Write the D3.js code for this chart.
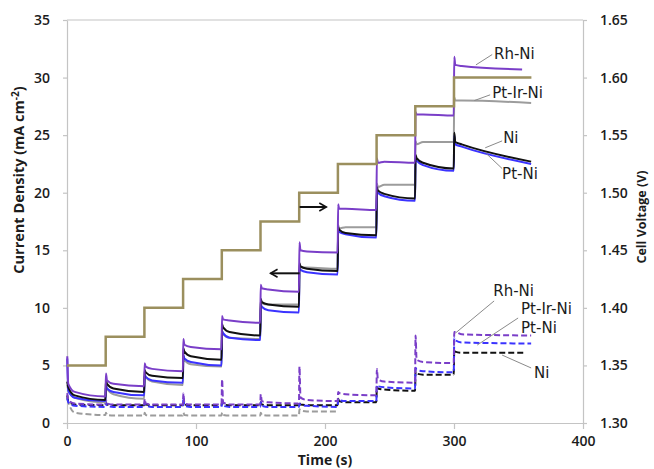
<!DOCTYPE html>
<html>
  <body style="margin:0">
    <style>
      svg { display: block; background: #fff; }
      .axis .tick text { font-family: "Open Sans", sans-serif; font-weight: 600; font-size: 14px; fill: #1c1c1c; }
      .axis path, .axis line { stroke: #c4c4c4; stroke-width: 1.2; }
      .title { font-family: "Open Sans", sans-serif; font-weight: 700; fill: #1c1c1c; }
      .note { font-family: "DejaVu Sans", sans-serif; font-size: 15px; fill: #1c1c1c; }
    </style>
    <script src="https://d3js.org/d3.v7.min.js"></script>
    <script>
      const width = 654;
      const height = 469;
      const margin = { top: 20, right: 71, bottom: 46, left: 67 };

      const xTicks = [0, 100, 200, 300, 400];
      const leftTicks = [0, 5, 10, 15, 20, 25, 30, 35];
      const rightTicks = [1.30, 1.35, 1.40, 1.45, 1.50, 1.55, 1.60, 1.65];

      // potential steps, 30 s each (s)
      const stepStart = [0, 30, 60, 90, 120, 150, 180, 210, 240, 270, 300];
      const stepEnd = [30, 60, 90, 120, 150, 180, 210, 240, 270, 300, 360];
      const appliedVoltage = [1.35, 1.375, 1.40, 1.425, 1.45, 1.475, 1.50, 1.525, 1.55, 1.575, 1.60];

      // current density per step (mA cm-2): [spike, start, after 6 s, end of step]
      const rhNiCurrent = [
        [5.8, 3.4, 2.7, 2.3], [4.3, 3.7, 3.4, 3.2], [5.2, 4.9, 4.7, 4.5], [7.3, 6.8, 6.6, 6.4],
        [9.3, 9.0, 8.9, 8.7], [12.0, 11.7, 11.6, 11.4], [15.7, 15.0, 14.9, 14.8], [19.0, 18.6, 18.6, 18.5],
        [23.0, 22.6, 22.7, 22.6], [27.0, 26.8, 26.8, 26.7], [31.8, 31.1, 31.0, 30.7]
      ];
      const ptIrNiCurrent = [
        [3.3, 2.9, 2.2, 1.8], [3.3, 3.0, 2.5, 2.1], [4.2, 4.0, 3.6, 3.3], [5.8, 5.5, 5.1, 4.9],
        [8.0, 7.7, 7.4, 7.3], [10.7, 10.4, 10.3, 10.3], [13.8, 13.5, 13.5, 13.4], [17.2, 16.9, 17.0, 17.0],
        [20.8, 20.5, 20.7, 20.7], [24.5, 24.2, 24.4, 24.4], [28.3, 28.0, 28.0, 27.8]
      ];
      const ptNiCurrent = [
        [5.6, 2.8, 2.2, 1.9], [3.3, 3.0, 2.7, 2.4], [4.2, 4.0, 3.7, 3.5], [5.9, 5.6, 5.3, 5.0],
        [8.0, 7.8, 7.4, 7.2], [10.3, 10.1, 9.8, 9.6], [13.5, 13.3, 13.1, 12.9], [16.8, 16.6, 16.4, 16.1],
        [20.3, 20.0, 19.7, 19.3], [23.1, 22.8, 22.4, 21.9], [25.0, 24.2, 24.0, 22.5]
      ];
      const niCurrent = [
        [3.6, 3.1, 2.4, 2.0], [3.8, 3.4, 3.0, 2.7], [4.6, 4.4, 4.1, 3.9], [6.5, 6.2, 5.8, 5.5],
        [8.6, 8.3, 7.9, 7.6], [10.8, 10.5, 10.3, 10.1], [13.9, 13.6, 13.4, 13.2], [17.0, 16.8, 16.5, 16.3],
        [20.5, 20.2, 19.9, 19.5], [23.3, 23.0, 22.6, 22.1], [25.2, 24.4, 24.2, 22.7]
      ];

      // cell voltage per current step (V): [spike, start, after 6 s, end of step]
      const rhNiVoltage = [
        [1.326, 1.320, 1.317, 1.316], [1.320, 1.317, 1.316, 1.316], [1.321, 1.317, 1.316, 1.316], [1.326, 1.317, 1.316, 1.316],
        [1.338, 1.318, 1.316, 1.316], [1.325, 1.319, 1.318, 1.317], [1.349, 1.322, 1.320, 1.319], [1.327, 1.326, 1.325, 1.324],
        [1.347, 1.338, 1.336, 1.335], [1.376, 1.355, 1.353, 1.352], [1.379, 1.379, 1.377, 1.376]
      ];
      const ptIrNiVoltage = [
        [1.321, 1.318, 1.309, 1.307], [1.309, 1.307, 1.3065, 1.3065], [1.309, 1.307, 1.3065, 1.3065], [1.309, 1.307, 1.3065, 1.3065],
        [1.309, 1.307, 1.3065, 1.3065], [1.309, 1.307, 1.3065, 1.3065], [1.312, 1.311, 1.310, 1.310]
      ];
      const ptNiVoltage = [
        [1.322, 1.318, 1.315, 1.314], [1.318, 1.315, 1.314, 1.314], [1.318, 1.315, 1.314, 1.314], [1.322, 1.315, 1.314, 1.314],
        [1.318, 1.315, 1.314, 1.314], [1.318, 1.315, 1.314, 1.314], [1.317, 1.316, 1.315, 1.314], [1.321, 1.320, 1.319, 1.319],
        [1.333, 1.332, 1.331, 1.330], [1.348, 1.346, 1.345, 1.344], [1.374, 1.372, 1.370, 1.369]
      ];
      const niVoltage = [
        [1.324, 1.319, 1.316, 1.3155], [1.318, 1.316, 1.3155, 1.3155], [1.318, 1.316, 1.3155, 1.3155], [1.318, 1.316, 1.3155, 1.3155],
        [1.318, 1.316, 1.3155, 1.3155], [1.318, 1.316, 1.3155, 1.3155], [1.318, 1.316, 1.3155, 1.3155], [1.321, 1.319, 1.318, 1.318],
        [1.331, 1.330, 1.329, 1.328], [1.345, 1.343, 1.342, 1.342], [1.364, 1.362, 1.361, 1.361]
      ];

      const colors = { rhNi: '#7a3ec8', ptIrNi: '#9c9c9c', ptNi: '#3b33ff', ni: '#111111', applied: '#9b8f5e' };

      const svg = d3.select('body').append('svg')
        .attr('width', width)
        .attr('height', height);

      const x = d3.scaleLinear().domain([0, 400]).range([margin.left, width - margin.right]);
      const yLeft = d3.scaleLinear().domain([0, 35]).range([height - margin.bottom, margin.top]);
      const yRight = d3.scaleLinear().domain([1.30, 1.65]).range([height - margin.bottom, margin.top]);

      // frame top line
      svg.append('line')
        .attr('x1', x(0)).attr('x2', x(400))
        .attr('y1', yLeft(35)).attr('y2', yLeft(35))
        .attr('stroke', '#c4c4c4').attr('stroke-width', 1.2);

      svg.append('g').attr('class', 'axis')
        .attr('transform', `translate(0, ${yLeft(0)})`)
        .call(d3.axisBottom(x).tickValues(xTicks).tickSize(6).tickSizeOuter(0).tickPadding(7));
      svg.append('g').attr('class', 'axis')
        .attr('transform', `translate(${x(0)}, 0)`)
        .call(d3.axisLeft(yLeft).tickValues(leftTicks).tickSize(4).tickSizeOuter(0).tickPadding(13));
      svg.append('g').attr('class', 'axis')
        .attr('transform', `translate(${x(400)}, 0)`)
        .call(d3.axisRight(yRight).tickValues(rightTicks).tickFormat(d3.format('.2f')).tickSize(4).tickSizeOuter(0).tickPadding(13));

      function stepPoints(values, end) {
        const pts = [];
        values.forEach((v, i) => {
          const t0 = stepStart[i];
          const t1 = i === values.length - 1 ? end : stepEnd[i];
          pts.push([t0 + 0.2, v[0]], [t0 + 1, v[1]], [t0 + 6, v[2]], [t1 - 0.2, v[3]]);
        });
        return pts;
      }

      const lineLeft = d3.line().x((d) => x(d[0])).y((d) => yLeft(d[1])).curve(d3.curveMonotoneX);
      const lineRight = d3.line().x((d) => x(d[0])).y((d) => yRight(d[1])).curve(d3.curveMonotoneX);

      const dashed = [
        { values: ptIrNiVoltage, end: 210, color: colors.ptIrNi },
        { values: niVoltage, end: 354, color: colors.ni },
        { values: ptNiVoltage, end: 360, color: colors.ptNi },
        { values: rhNiVoltage, end: 360, color: colors.rhNi },
      ];
      svg.append('g').selectAll('path')
        .data(dashed)
        .enter()
        .append('path')
        .attr('d', (d) => lineRight(stepPoints(d.values, d.end)))
        .attr('fill', 'none')
        .attr('stroke', (d) => d.color)
        .attr('stroke-width', 2)
        .attr('stroke-dasharray', '6,3');

      const solid = [
        { values: ptIrNiCurrent, end: 360, color: colors.ptIrNi },
        { values: ptNiCurrent, end: 360, color: colors.ptNi },
        { values: niCurrent, end: 360, color: colors.ni },
        { values: rhNiCurrent, end: 353, color: colors.rhNi },
      ];
      svg.append('g').selectAll('path')
        .data(solid)
        .enter()
        .append('path')
        .attr('d', (d) => lineLeft(stepPoints(d.values, d.end)))
        .attr('fill', 'none')
        .attr('stroke', (d) => d.color)
        .attr('stroke-width', 2);

      const applied = stepStart.map((t, i) => [t, appliedVoltage[i]]);
      applied.push([stepEnd[stepEnd.length - 1], appliedVoltage[appliedVoltage.length - 1]]);
      svg.append('path')
        .attr('d', d3.line().x((d) => x(d[0])).y((d) => yRight(d[1])).curve(d3.curveStepAfter)(applied))
        .attr('fill', 'none')
        .attr('stroke', colors.applied)
        .attr('stroke-width', 2.5);

      // arrows showing which axis each set belongs to
      svg.append('defs').append('marker')
        .attr('id', 'head')
        .attr('viewBox', '0 0 10 10')
        .attr('refX', 8).attr('refY', 5)
        .attr('markerWidth', 5).attr('markerHeight', 5)
        .attr('orient', 'auto')
        .append('path')
        .attr('d', 'M1,1 L8,5 L1,9')
        .attr('fill', 'none')
        .attr('stroke', '#111')
        .attr('stroke-width', 1.6);
      const arrows = [
        { from: [180.3, 18.76], to: [201, 18.76] },
        { from: [180.3, 13.0], to: [157.8, 13.0] },
      ];
      svg.append('g').selectAll('line')
        .data(arrows)
        .enter()
        .append('line')
        .attr('x1', (d) => x(d.from[0])).attr('y1', (d) => yLeft(d.from[1]))
        .attr('x2', (d) => x(d.to[0])).attr('y2', (d) => yLeft(d.to[1]))
        .attr('stroke', '#111')
        .attr('stroke-width', 2)
        .attr('marker-end', 'url(#head)');

      // series labels with leader lines (positions in left-axis units)
      const notes = [
        { text: 'Rh-Ni', at: [331, 31.6], from: [329.6, 32.0], to: [317, 31.1] },
        { text: 'Pt-Ir-Ni', at: [329.6, 28.2], from: [328, 28.5], to: [315.7, 28.0] },
        { text: 'Ni', at: [338.1, 24.3], from: [337.3, 24.5], to: [324.2, 23.9] },
        { text: 'Pt-Ni', at: [337.3, 21.2], from: [337.3, 22.1], to: [325, 23.4] },
        { text: 'Rh-Ni', at: [330.4, 11.03], from: [331.1, 10.6], to: [301, 7.8] },
        { text: 'Pt-Ir-Ni', at: [352, 9.47] },
        { text: 'Pt-Ni', at: [352, 7.82], from: [349.7, 9.12], to: [318, 6.77] },
        { text: 'Ni', at: [362.1, 3.91], from: [359.8, 4.78], to: [337.3, 5.9] },
      ];
      svg.append('g').selectAll('line')
        .data(notes.filter((d) => d.from))
        .enter()
        .append('line')
        .attr('x1', (d) => x(d.from[0])).attr('y1', (d) => yLeft(d.from[1]))
        .attr('x2', (d) => x(d.to[0])).attr('y2', (d) => yLeft(d.to[1]))
        .attr('stroke', '#8a8a8a')
        .attr('stroke-width', 1);
      svg.append('g').selectAll('text')
        .data(notes)
        .enter()
        .append('text')
        .attr('class', 'note')
        .attr('x', (d) => x(d.at[0]))
        .attr('y', (d) => yLeft(d.at[1]))
        .text((d) => d.text);

      // axis titles
      const leftTitle = svg.append('text')
        .attr('class', 'title')
        .attr('font-size', 14.5)
        .attr('text-anchor', 'middle')
        .attr('transform', 'translate(24, 180) rotate(-90)');
      leftTitle.append('tspan').text('Current Density (mA cm');
      leftTitle.append('tspan').attr('font-size', 10).attr('dy', -5).text('-2');
      leftTitle.append('tspan').attr('dy', 5).text(')');

      svg.append('text')
        .attr('class', 'title')
        .attr('font-size', 12.5)
        .attr('text-anchor', 'middle')
        .attr('transform', 'translate(646, 217) rotate(-90)')
        .text('Cell Voltage (V)');

      svg.append('text')
        .attr('class', 'title')
        .attr('font-size', 14)
        .attr('text-anchor', 'middle')
        .attr('x', x(200))
        .attr('y', 465)
        .text('Time (s)');
    </script>
  </body>
</html>
